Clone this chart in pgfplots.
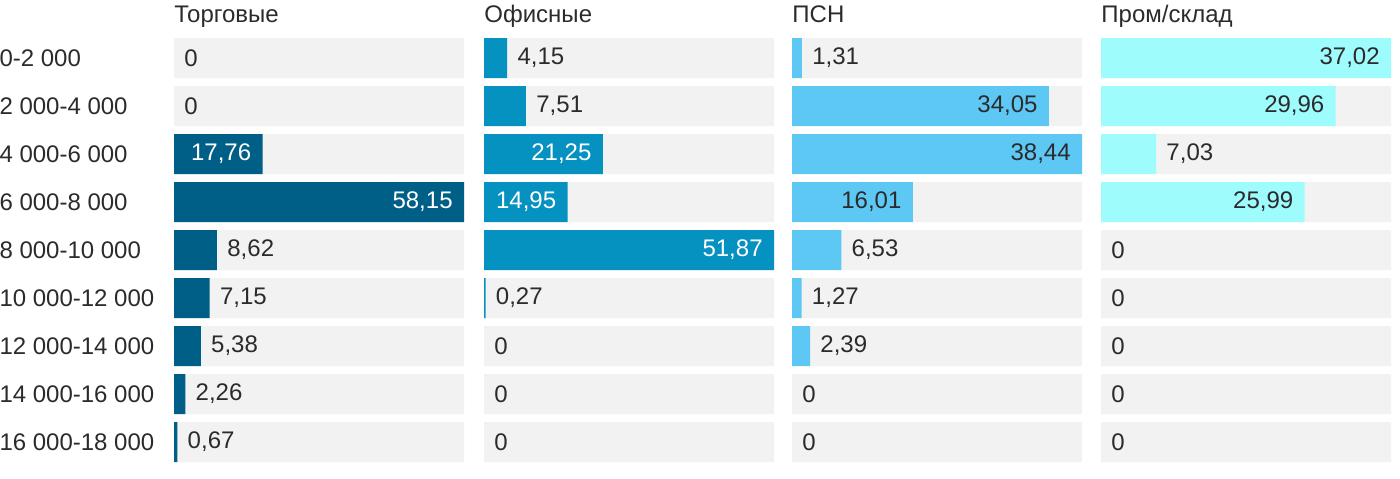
\documentclass[border=0pt]{standalone}
\usepackage{pgfplots}
\pgfplotsset{compat=1.18}
\usepackage{fontspec}
\setmainfont{Liberation Sans}
\definecolor{bgc}{HTML}{F2F2F2}
\definecolor{txt}{HTML}{2B2B2B}
\definecolor{c1}{HTML}{005F87}
\definecolor{c2}{HTML}{0692C0}
\definecolor{c3}{HTML}{5EC8F5}
\definecolor{c4}{HTML}{9EFCFD}
\newcommand{\fs}{\fontsize{12}{14}\selectfont}
\pgfplotsset{panel/.style={
  scale only axis, width=145pt, height=216pt,
  xmin=0, ymin=-0.5, ymax=8.5, y dir=reverse,
  xbar, bar width=20pt,
  axis line style={draw=none}, tick style={draw=none},
  xtick=\empty, ytick=\empty,
  clip=false,
  title style={at={(0,1)}, anchor=base west, inner sep=0pt, font=\fs, text=txt},
  anchor=north west,
  /pgf/number format/.cd, use comma, fixed, precision=2, assume math mode=true, /pgfplots/.cd,
},
bg/.style={fill=bgc, draw=none, bar shift=0pt},
bars/.style={draw=none, bar shift=0pt, fill=#1, x filter/.expression={x<0.001 ? nan : x}},
lbl/.style={draw=none, fill=none, bar shift=0pt,
  point meta=x,
  nodes near coords,
  visualization depends on={value \thisrow{pos} \as \lblpos},
  visualization depends on={value \thisrow{col} \as \lblcol},
  visualization depends on={\thisrow{sh} \as \lblsh},
  every node near coord/.append style={anchor=\lblpos, xshift=\lblsh pt, inner sep=3pt, font=\fs, text=\lblcol},
}}
\begin{document}
\begin{tikzpicture}
\path[use as bounding box] (0,0) rectangle (700pt,-239pt);
% Panel 1
\begin{axis}[panel, at={(87pt,-17pt)}, xmax=58.15, title={Торговые},
  ytick={0,...,8},
  yticklabels={0-2 000,2 000-4 000,4 000-6 000,6 000-8 000,8 000-10 000,10 000-12 000,12 000-14 000,14 000-16 000,16 000-18 000},
  yticklabel style={anchor=west, xshift=-86.5pt, font=\fs, text=txt}]
\addplot[bg] coordinates {(58.15,0) (58.15,1) (58.15,2) (58.15,3) (58.15,4) (58.15,5) (58.15,6) (58.15,7) (58.15,8)};
\addplot[bars=c1] table {
x y
0 0
0 1
17.76 2
58.15 3
8.62 4
7.15 5
5.38 6
2.26 7
0.67 8
};
\addplot[lbl] table {
x y pos col sh
0 0 west txt 2
0 1 west txt 2
17.76 2 east white -2.5
58.15 3 east white -2.5
8.62 4 west txt 2
7.15 5 west txt 2
5.38 6 west txt 2
2.26 7 west txt 2
0.67 8 west txt 2
};
\end{axis}
% Panel 2
\begin{axis}[panel, at={(242pt,-17pt)}, xmax=51.87, title={Офисные}]
\addplot[bg] coordinates {(51.87,0) (51.87,1) (51.87,2) (51.87,3) (51.87,4) (51.87,5) (51.87,6) (51.87,7) (51.87,8)};
\addplot[bars=c2] table {
x y
4.15 0
7.51 1
21.25 2
14.95 3
51.87 4
0.27 5
0 6
0 7
0 8
};
\addplot[lbl] table {
x y pos col sh
4.15 0 west txt 2
7.51 1 west txt 2
21.25 2 east white -2.5
14.95 3 east white -2.5
51.87 4 east white -2.5
0.27 5 west txt 2
0 6 west txt 2
0 7 west txt 2
0 8 west txt 2
};
\end{axis}
% Panel 3
\begin{axis}[panel, at={(396pt,-17pt)}, xmax=38.44, title={ПСН}]
\addplot[bg] coordinates {(38.44,0) (38.44,1) (38.44,2) (38.44,3) (38.44,4) (38.44,5) (38.44,6) (38.44,7) (38.44,8)};
\addplot[bars=c3] table {
x y
1.31 0
34.05 1
38.44 2
16.01 3
6.53 4
1.27 5
2.39 6
0 7
0 8
};
\addplot[lbl] table {
x y pos col sh
1.31 0 west txt 2
34.05 1 east txt -2.5
38.44 2 east txt -2.5
16.01 3 east txt -2.5
6.53 4 west txt 2
1.27 5 west txt 2
2.39 6 west txt 2
0 7 west txt 2
0 8 west txt 2
};
\end{axis}
% Panel 4
\begin{axis}[panel, at={(550.5pt,-17pt)}, xmax=37.02, title={Пром/склад}]
\addplot[bg] coordinates {(37.02,0) (37.02,1) (37.02,2) (37.02,3) (37.02,4) (37.02,5) (37.02,6) (37.02,7) (37.02,8)};
\addplot[bars=c4] table {
x y
37.02 0
29.96 1
7.03 2
25.99 3
0 4
0 5
0 6
0 7
0 8
};
\addplot[lbl] table {
x y pos col sh
37.02 0 east txt -2.5
29.96 1 east txt -2.5
7.03 2 west txt 2
25.99 3 east txt -2.5
0 4 west txt 2
0 5 west txt 2
0 6 west txt 2
0 7 west txt 2
0 8 west txt 2
};
\end{axis}
\end{tikzpicture}
\end{document}
